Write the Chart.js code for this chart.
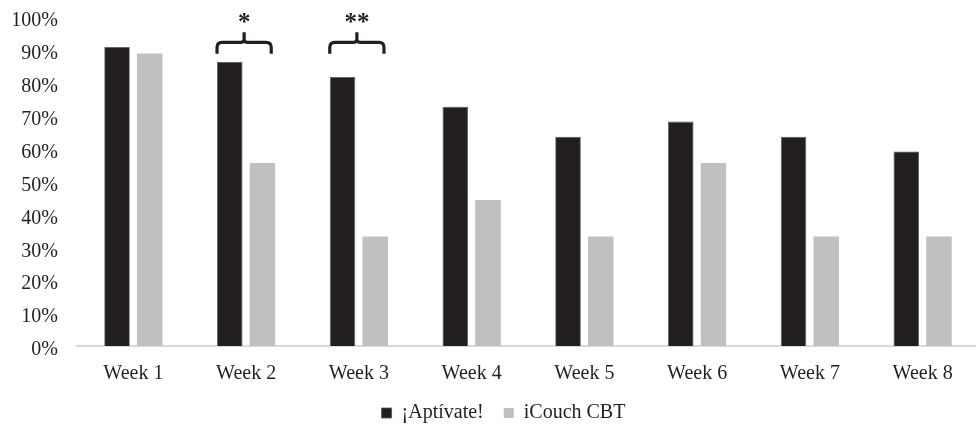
<!DOCTYPE html>
<html>
<head>
<meta charset="utf-8">
<script src="https://cdn.jsdelivr.net/npm/chart.js@4/dist/chart.umd.min.js"></script>
<style>
  html, body { margin: 0; padding: 0; background: #fff; overflow: hidden; }
  #wrap { width: 976px; height: 428px; overflow: hidden; }
</style>
</head>
<body>
<div id="wrap"><canvas id="myChart" width="1006" height="428"></canvas></div>
<script>
// share of participants per week
const weeks = ['Week 1', 'Week 2', 'Week 3', 'Week 4', 'Week 5', 'Week 6', 'Week 7', 'Week 8'];
const aptivate = [90.9, 86.4, 81.8, 72.7, 63.6, 68.2, 63.6, 59.1];
const icouch = [88.9, 55.6, 33.3, 44.4, 33.3, 55.6, 33.3, 33.3];
const yTicks = [0, 10, 20, 30, 40, 50, 60, 70, 80, 90, 100];
// significance brackets: week index -> label
const sigWeeks = [1, 2];
const sigLabels = ['*', '**'];

const ink = '#231f20';
const grey = '#bfc0c2';
const serif = '"Liberation Serif", "Times New Roman", serif';

// brace + stars above week 2 and 3
const bracketPlugin = {
  id: 'brackets',
  afterLayout(chart) {
    // original legend sits a bit right of the full width centre
    chart.legend.left += 14;
    chart.legend.right += 14;
  },
  afterDatasetsDraw(chart) {
    const ctx = chart.ctx;
    const y = chart.scales.y;
    const m0 = chart.getDatasetMeta(0);
    const m1 = chart.getDatasetMeta(1);
    const yLine = y.getPixelForValue(92.3);
    const yEnd = y.getPixelForValue(88.8);
    const yTop = y.getPixelForValue(95.4);
    const yStar = y.getPixelForValue(99.6);
    ctx.save();
    ctx.strokeStyle = ink;
    ctx.lineWidth = 3.2;
    ctx.lineJoin = 'round';
    for (let k = 0; k < sigWeeks.length; k++) {
      const i = sigWeeks[k];
      const b0 = m0.data[i];
      const b1 = m1.data[i];
      const left = b0.x - b0.width / 2;
      const right = b1.x + b1.width / 2 - 4;
      const mid = (left + right) / 2;
      const r = 5;
      ctx.beginPath();
      ctx.moveTo(left, yEnd);
      ctx.lineTo(left, yLine + r);
      ctx.quadraticCurveTo(left, yLine, left + r, yLine);
      ctx.lineTo(mid - 3, yLine);
      ctx.quadraticCurveTo(mid, yLine, mid, yLine - 3);
      ctx.lineTo(mid, yTop);
      ctx.moveTo(mid, yLine - 3);
      ctx.quadraticCurveTo(mid, yLine, mid + 3, yLine);
      ctx.lineTo(right - r, yLine);
      ctx.quadraticCurveTo(right, yLine, right, yLine + r);
      ctx.lineTo(right, yEnd);
      ctx.stroke();
      ctx.fillStyle = ink;
      ctx.font = 'bold 25px ' + serif;
      ctx.textAlign = 'center';
      ctx.textBaseline = 'middle';
      ctx.fillText(sigLabels[k], mid, yStar + 5);
    }
    ctx.restore();
  }
};

const data = {
  labels: weeks,
  datasets: [{
    label: '¡Aptívate!',
    data: aptivate,
    backgroundColor: ink,
    borderColor: '#555',
    borderWidth: 0.8,
    categoryPercentage: 0.58,
    barPercentage: 0.78
  }, {
    label: 'iCouch CBT',
    data: icouch,
    backgroundColor: grey,
    borderWidth: 0,
    categoryPercentage: 0.58,
    barPercentage: 0.78
  }]
};

const config = {
  type: 'bar',
  data: data,
  options: {
    responsive: false,
    animation: false,
    layout: { padding: { top: 17, right: 27, left: 0, bottom: -5 } },
    plugins: {
      tooltip: { enabled: false },
      legend: {
        position: 'bottom',
        labels: {
          color: ink,
          font: { family: serif, size: 20 },
          boxWidth: 10,
          boxHeight: 10,
          padding: 20
        }
      }
    },
    scales: {
      x: {
        afterFit: s => { s.height = 37; s.paddingLeft = 0; s.paddingRight = 0; },
        grid: { display: false, drawTicks: false },
        border: { color: '#d9d9d9', width: 2 },
        ticks: { color: ink, font: { family: serif, size: 20 }, padding: 16 }
      },
      y: {
        min: 0,
        max: 100,
        afterBuildTicks: s => { s.ticks = yTicks.map(v => ({ value: v })); },
        afterFit: s => { s.width = 77; s.paddingTop = 0; s.paddingBottom = 0; },
        grid: { display: false, drawTicks: false },
        border: { display: false },
        ticks: {
          color: ink,
          font: { family: serif, size: 20 },
          padding: 19,
          labelOffset: 4,
          callback: v => v + '%'
        }
      }
    }
  },
  plugins: [bracketPlugin]
};

const myChart = new Chart(document.getElementById('myChart'), config);
</script>
</body>
</html>
